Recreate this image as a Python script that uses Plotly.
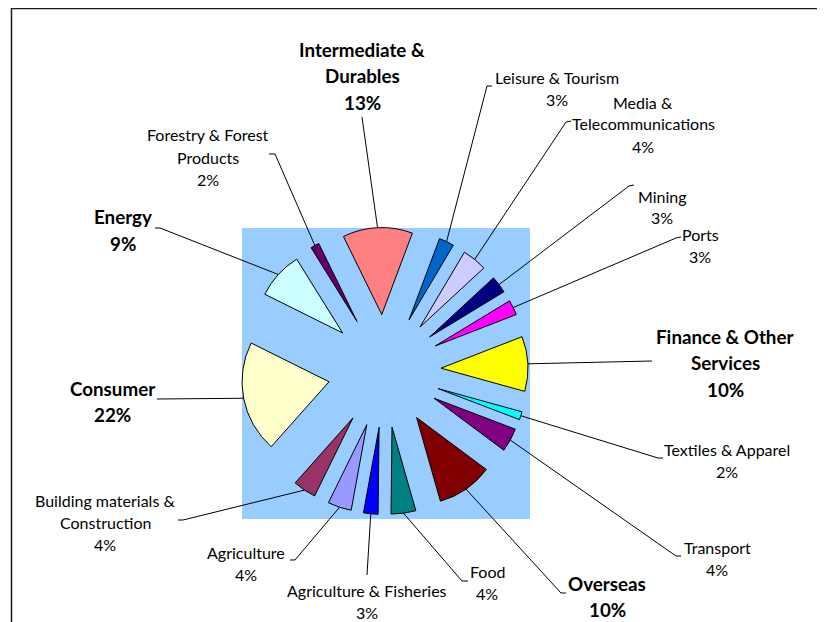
import math
import plotly.graph_objects as go

# page has an 8 px body margin: figure occupies screen pixels 8..825 / 8..622
OFF = 8
W, H = 825 - OFF, 622 - OFF

# ---------------- data (clockwise order, starting after 12 o'clock) ----------------
sectors = [
    "Leisure & Tourism", "Media & Telecommunications", "Mining", "Ports",
    "Finance & Other Services", "Textiles & Apparel", "Transport", "Overseas",
    "Food", "Agriculture & Fisheries", "Agriculture",
    "Building materials & Construction", "Consumer", "Energy",
    "Forestry & Forest Products", "Intermediate & Durables",
]
# slice sizes (%)
slice_values = [2.8, 4.6, 3.2, 2.8, 10.2, 1.5, 4.4, 10.4, 4.6, 2.7, 4.4, 4.3, 20.8, 8.8, 1.6, 13.0]
# percentage texts printed on the data labels
pct_labels = ["3%", "4%", "3%", "3%", "10%", "2%", "4%", "10%", "4%", "3%", "4%", "4%",
              "22%", "9%", "2%", "13%"]
colors = [
    "#0066CC", "#CCCCFF", "#000080", "#FF00FF", "#FFFF00", "#00FFFF", "#800080",
    "#800000", "#008080", "#0000FF", "#9999FF", "#993366", "#FFFFCC", "#CCFFFF",
    "#660066", "#FF8080",
]

# ---------------- label layout (screen pixel positions, line breaks, style) ----------------
label_style = {
    "Leisure & Tourism": dict(lines=["Leisure & Tourism"], x=557, y=77, bold=False,
                              leader=[(487, 86), (492, 86)]),
    "Media & Telecommunications": dict(lines=["Media &", "Telecommunications"], x=643, y=102, bold=False,
                                       leader=[(566, 122), (571, 121)]),
    "Mining": dict(lines=["Mining"], x=662, y=196, bold=False, leader=[(629, 186), (634, 185)]),
    "Ports": dict(lines=["Ports"], x=700, y=235, bold=False, leader=[(676, 238), (681, 237)]),
    "Finance & Other Services": dict(lines=["Finance & Other", "Services"], x=725, y=336, bold=True,
                                     leader=[(652, 361)]),
    "Textiles & Apparel": dict(lines=["Textiles & Apparel"], x=727, y=449, bold=False,
                               leader=[(658, 458), (663, 458)]),
    "Transport": dict(lines=["Transport"], x=717, y=547, bold=False, leader=[(676, 556), (681, 556)]),
    "Overseas": dict(lines=["Overseas"], x=607, y=583, bold=True, leader=[(561, 593), (566, 593)]),
    "Food": dict(lines=["Food"], x=487, y=571, bold=False, leader=[(462, 581), (468, 581)]),
    "Agriculture & Fisheries": dict(lines=["Agriculture & Fisheries"], x=367, y=590, bold=False,
                                    leader=[(367, 575)]),
    "Agriculture": dict(lines=["Agriculture"], x=246, y=552, bold=False, leader=[(295, 560), (290, 560)]),
    "Building materials & Construction": dict(lines=["Building materials &", "Construction"], x=105, y=500,
                                              bold=False, leader=[(183, 520), (178, 520)]),
    "Consumer": dict(lines=["Consumer"], x=112, y=388, bold=True, leader=[(157, 399)]),
    "Energy": dict(lines=["Energy"], x=123, y=217, bold=True, leader=[(160, 228), (155, 228)]),
    "Forestry & Forest Products": dict(lines=["Forestry & Forest", "Products"], x=208, y=135, bold=False,
                                       leader=[(275, 154), (269, 154)]),
    "Intermediate & Durables": dict(lines=["Intermediate &", "Durables"], x=362, y=49, bold=True,
                                    leader=[(362, 117)]),
}

FONT = "Lato"
SMALL_SIZE, SMALL_STEP = 16, 22
BOLD_SIZE, BOLD_STEP = 18.8, 26.5

# plot area (blue square) and pie box in screen pixels
PA_X0, PA_X1, PA_Y0, PA_Y1 = 242, 530, 228, 519
PIE_CX, PIE_CY, PIE_R = 384.5, 371, 143.5
PULL = 0.65
ROTATION = 20.6  # start angle of the first slice, degrees clockwise from 12 o'clock


def px(x):
    return (x - OFF) / W


def py(y):
    return 1 - (y - OFF) / H


total = sum(slice_values)

fig = go.Figure(go.Pie(
    labels=sectors,
    values=slice_values,
    sort=False,
    direction="clockwise",
    rotation=ROTATION,
    pull=[PULL] * len(slice_values),
    marker=dict(colors=colors, line=dict(color="#000000", width=1)),
    textinfo="none",
    hoverinfo="label",
    domain=dict(x=[px(PIE_CX - PIE_R), px(PIE_CX + PIE_R)],
                y=[py(PIE_CY + PIE_R), py(PIE_CY - PIE_R)]),
    showlegend=False,
))

shapes = [
    dict(type="rect", xref="paper", yref="paper", x0=px(PA_X0), x1=px(PA_X1),
         y0=py(PA_Y1), y1=py(PA_Y0), fillcolor="#99CCFF", line=dict(width=0), layer="below"),
    dict(type="line", xref="paper", yref="paper", x0=px(11), x1=1.02, y0=py(8.6), y1=py(8.6),
         line=dict(color="#1a1a1a", width=1.5)),
    dict(type="line", xref="paper", yref="paper", x0=px(11.5), x1=px(11.5), y0=py(8), y1=-0.02,
         line=dict(color="#1a1a1a", width=1.5)),
]

annotations = []
cum = 0
for name, val, pct in zip(sectors, slice_values, pct_labels):
    mid = math.radians(ROTATION + 360.0 * (cum + val / 2) / total)
    cum += val
    ex = PIE_CX + PIE_R * math.sin(mid)
    ey = PIE_CY - PIE_R * math.cos(mid)
    st = label_style[name]
    pts = [(ex, ey)] + st["leader"]
    path = "M " + " L ".join(f"{px(a):.5f},{py(b):.5f}" for a, b in pts)
    shapes.append(dict(type="path", xref="paper", yref="paper", path=path,
                       line=dict(color="#000000", width=1)))
    size = BOLD_SIZE if st["bold"] else SMALL_SIZE
    step = BOLD_STEP if st["bold"] else SMALL_STEP
    lines = st["lines"] + [pct]
    for i, t in enumerate(lines):
        annotations.append(dict(
            text=t, x=px(st["x"]), y=py(st["y"] + i * step), xref="paper", yref="paper",
            xanchor="center", yanchor="middle", showarrow=False,
            font=dict(family=FONT, size=size, color="#000000",
                      weight=700 if st["bold"] else 400),
        ))

fig.update_layout(
    width=W, height=H,
    margin=dict(l=0, r=0, t=0, b=0),
    paper_bgcolor="#FFFFFF",
    plot_bgcolor="#FFFFFF",
    shapes=shapes,
    annotations=annotations,
    showlegend=False,
)

fig.write_html("out.html")
